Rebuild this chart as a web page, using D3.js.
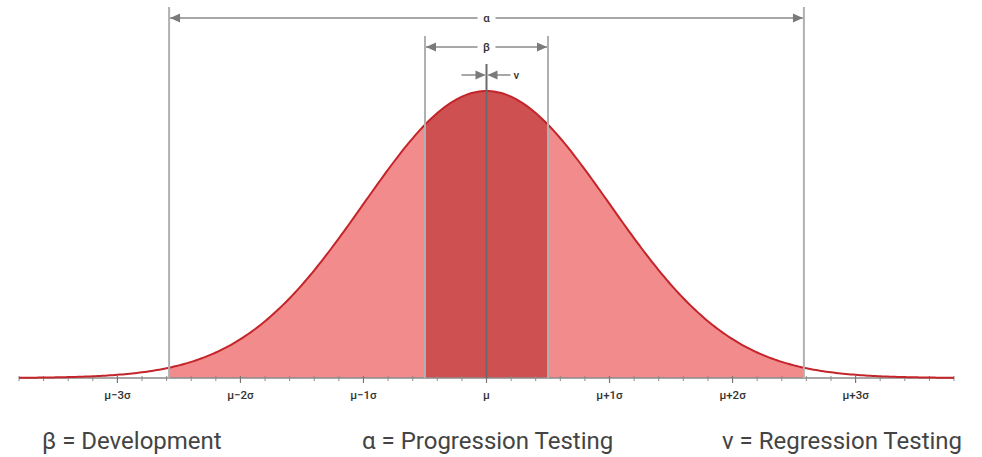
<!DOCTYPE html>
<html><head><meta charset="utf-8">
<script src="https://cdn.jsdelivr.net/npm/d3@7"></script>
<style>body{margin:0;background:#fff;}svg{display:block;font-family:Roboto,"Noto Sans",sans-serif;}</style>
</head><body>
<svg id="c" width="982" height="457"></svg>
<script>
// data (in σ units)
const sigmaTicks = [-3, -2, -1, 0, 1, 2, 3];
const sigmaLabels = ["μ−3σ", "μ−2σ", "μ−1σ", "μ", "μ+1σ", "μ+2σ", "μ+3σ"];
const domainSigma = [-3.8, 3.8];
const alphaRange = [-2.58, 2.58];
const betaRange = [-0.5, 0.5];
const vRange = [0, 0];
const legendItems = ["β = Development", "α = Progression Testing", "v = Regression Testing"];

const svg = d3.select("#c");
const x = d3.scaleLinear().domain(domainSigma).range([19, 954]);
const y = d3.scaleLinear().domain([0, 1]).range([378, 91]);
const pdf = t => Math.exp(-t * t / 2);

const pts = d3.range(domainSigma[0], domainSigma[1] + 0.0001, 0.02);
const area = d3.area().x(d => x(d)).y0(y(0)).y1(d => y(pdf(d)));
const line = d3.line().x(d => x(d)).y(d => y(pdf(d)));

function ptsIn(a, b) { const p = d3.range(a, b, 0.01); p.push(b); return p; }

svg.append("path").attr("d", area(ptsIn(alphaRange[0], alphaRange[1]))).attr("fill", "#f28b8b");
svg.append("path").attr("d", area(ptsIn(betaRange[0], betaRange[1]))).attr("fill", "#cf5050");

// axis
const minor = d3.range(domainSigma[0], domainSigma[1] + 0.001, 0.2).filter(t => Math.abs(t - Math.round(t)) > 0.01);
const gAx = svg.append("g");
gAx.append("line").attr("x1", x(domainSigma[0])).attr("x2", x(domainSigma[1])).attr("y1", y(0)).attr("y2", y(0)).attr("stroke", "#8a8a8a").attr("stroke-width", 1.5);
gAx.selectAll(".mn").data(minor).join("line").attr("x1", d => x(d)).attr("x2", d => x(d)).attr("y1", y(0) - 2).attr("y2", y(0) + 3).attr("stroke", "#8a8a8a").attr("stroke-width", 1);
gAx.selectAll(".mj").data(sigmaTicks).join("line").attr("x1", d => x(d)).attr("x2", d => x(d)).attr("y1", y(0) - 2).attr("y2", y(0) + 5).attr("stroke", "#777").attr("stroke-width", 1.2);
gAx.selectAll("text").data(sigmaTicks).join("text").attr("x", d => x(d)).attr("y", 399).attr("text-anchor", "middle").attr("font-size", 11.5).attr("font-weight", 500).attr("fill", "#333").text((d, i) => sigmaLabels[i]);

// curve
svg.append("path").attr("d", line(pts)).attr("fill", "none").attr("stroke", "#c4252b").attr("stroke-width", 2);

// vertical markers
const vl = (t, top, col) => svg.append("line").attr("x1", x(t)).attr("x2", x(t)).attr("y1", top).attr("y2", y(0)).attr("stroke", col).attr("stroke-width", 2);
vl(alphaRange[0], 7, "#b0b0b0"); vl(alphaRange[1], 7, "#b0b0b0");
vl(betaRange[0], 36, "#b0b0b0"); vl(betaRange[1], 36, "#b0b0b0");
vl(0, 64, "#6b6b6b");

const arrowCol = "#7a7a7a";
function head(xp, yp, dir) {
  svg.append("path").attr("d", `M${xp},${yp} L${xp - dir * 10},${yp - 4.5} L${xp - dir * 10},${yp + 4.5} Z`).attr("fill", arrowCol);
}
function dim(a, b, yp, label) {
  const x1 = x(a) + 1, x2 = x(b) - 1, xm = (x1 + x2) / 2;
  svg.append("line").attr("x1", x1).attr("x2", xm - 9).attr("y1", yp).attr("y2", yp).attr("stroke", "#a8a8a8").attr("stroke-width", 2);
  svg.append("line").attr("x1", xm + 9).attr("x2", x2).attr("y1", yp).attr("y2", yp).attr("stroke", "#a8a8a8").attr("stroke-width", 2);
  head(x1, yp, -1); head(x2, yp, 1);
  svg.append("text").attr("x", xm).attr("y", yp + 4).attr("text-anchor", "middle").attr("font-size", 11.5).attr("font-weight", 500).attr("fill", "#333").text(label);
}
dim(alphaRange[0], alphaRange[1], 18, "α");
dim(betaRange[0], betaRange[1], 47, "β");

// v arrows (pointing inward to center)
const xc = x(vRange[0]);
svg.append("line").attr("x1", xc - 25).attr("x2", xc - 2).attr("y1", 75).attr("y2", 75).attr("stroke", "#a8a8a8").attr("stroke-width", 2);
svg.append("line").attr("x1", xc + 2).attr("x2", xc + 24).attr("y1", 75).attr("y2", 75).attr("stroke", "#a8a8a8").attr("stroke-width", 2);
head(xc - 1, 75, 1); head(xc + 1, 75, -1);
svg.append("text").attr("x", xc + 27).attr("y", 79).attr("font-size", 11.5).attr("font-weight", 500).attr("fill", "#333").text("v");

// legend
const legX = [42, 362, 722];
svg.selectAll(".leg").data(legendItems).join("text").attr("x", (d, i) => legX[i]).attr("y", 449).attr("font-size", 24).attr("fill", "#444").text(d => d);
</script>
</body></html>
